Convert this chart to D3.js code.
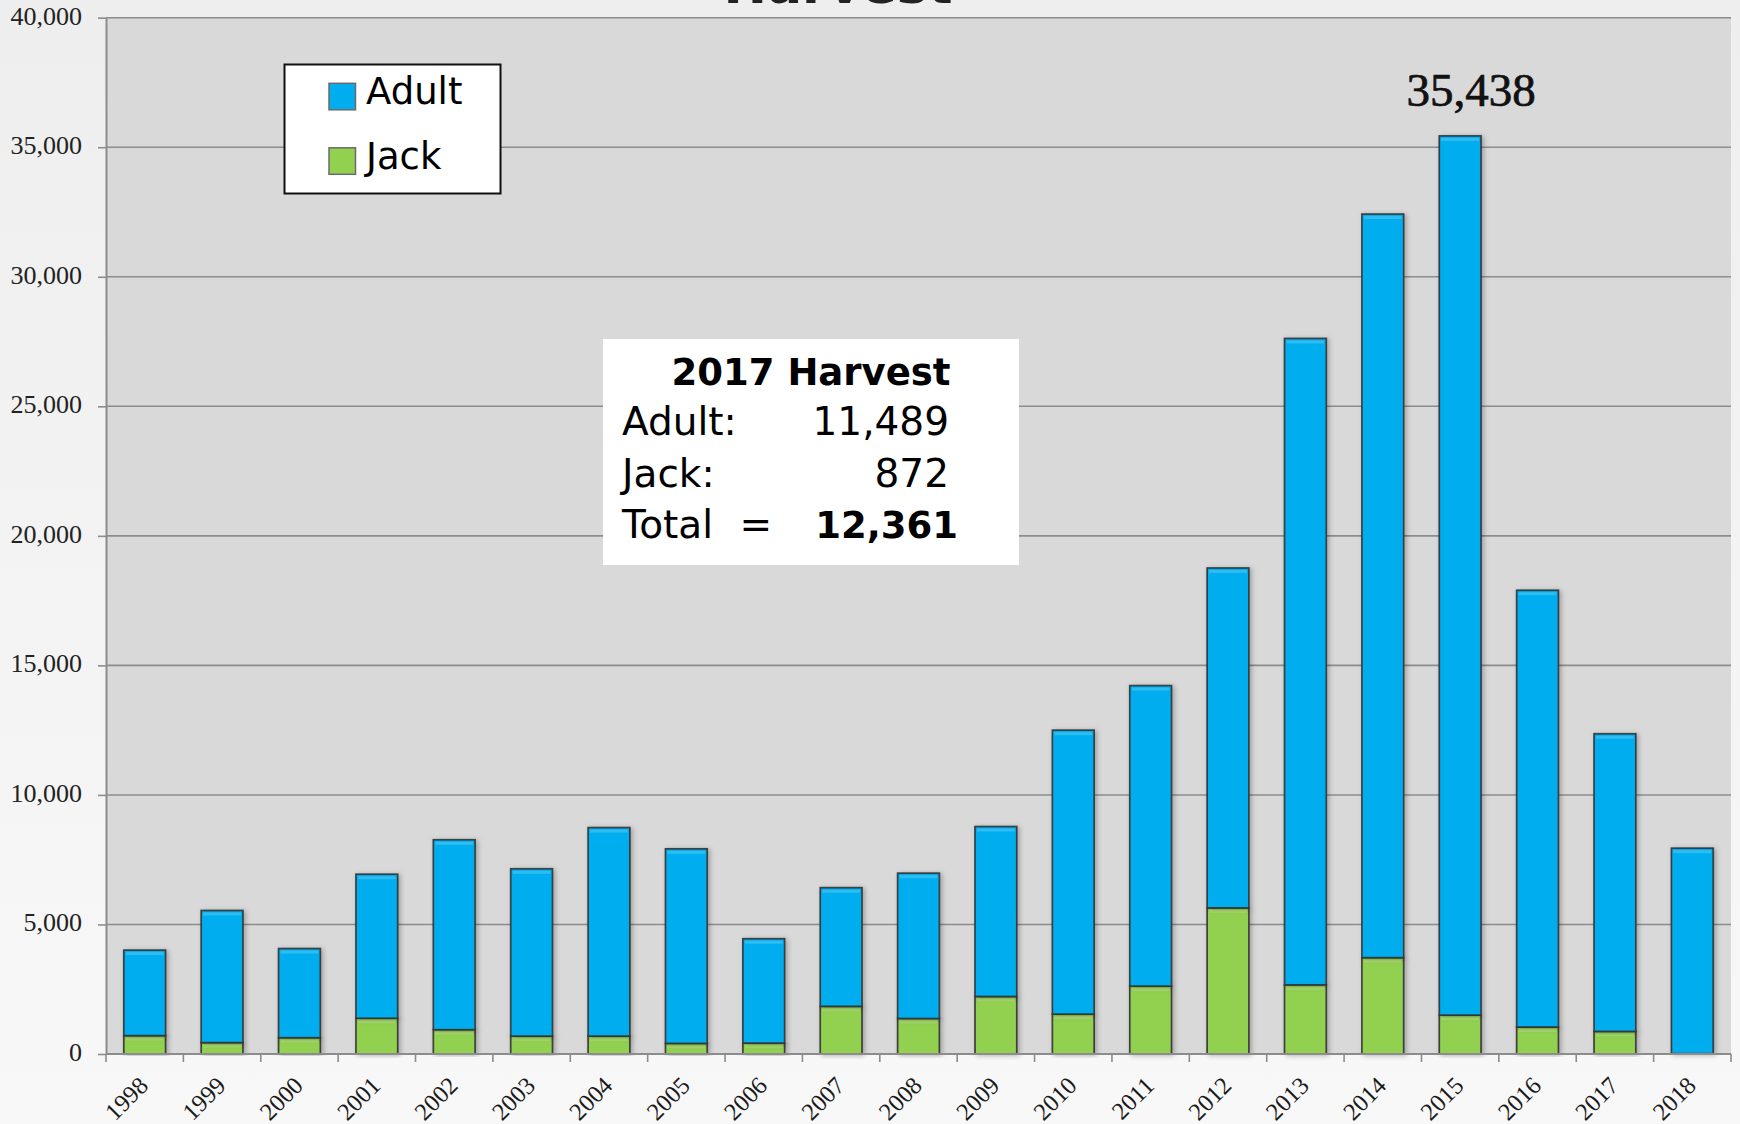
<!DOCTYPE html>
<html><head><meta charset="utf-8">
<script src="https://cdn.jsdelivr.net/npm/d3@7"></script>
<style>
html,body{margin:0;padding:0;background:#f3f3f3;}
body{width:1740px;height:1124px;overflow:hidden;}
</style></head><body>
<script>
// ---- data ----
const years = ["1998","1999","2000","2001","2002","2003","2004","2005","2006","2007","2008","2009","2010","2011","2012","2013","2014","2015","2016","2017","2018"];
const jack  = [710, 440, 630, 1380, 940, 690, 690, 410, 420, 1840, 1370, 2220, 1540, 2620, 5640, 2670, 3720, 1500, 1040, 872, 15];
const adult = [3300, 5100, 3440, 5560, 7330, 6460, 8050, 7510, 4030, 4580, 5610, 6560, 10960, 11600, 13120, 24950, 28700, 33938, 16860, 11489, 7930];
const yTicks = [0, 5000, 10000, 15000, 20000, 25000, 30000, 35000, 40000];
const seriesKeys = ["jack", "adult"];
const legendLabels = ["Adult", "Jack"];
const chartTitle = "Harvest";
const peakYear = "2015";
const peakLabel = "35,438";
const boxTitle = "2017 Harvest";
const boxLabels = ["Adult:", "Jack:", "Total ="];
const boxValues = ["11,489", "872", "12,361"];

// ---- layout ----
const W = 1740, H = 1124;
const L = 106, R = 1731, T = 17.7, B = 1054;
const colors = {adult: "#00aeef", jack: "#92d050"};

const svg = d3.select("body").append("svg").attr("width", W).attr("height", H);
const defs = svg.append("defs");
const bg = defs.append("linearGradient").attr("id", "bg").attr("x1", 0).attr("y1", 0).attr("x2", 0).attr("y2", 1);
bg.append("stop").attr("offset", "0%").attr("stop-color", "#eeeeee");
bg.append("stop").attr("offset", "100%").attr("stop-color", "#f8f8f8");
const f = defs.append("filter").attr("id", "sh").attr("x", "-30%").attr("y", "-10%").attr("width", "160%").attr("height", "120%");
f.append("feDropShadow").attr("dx", 2).attr("dy", 1).attr("stdDeviation", 2.5).attr("flood-color", "#000").attr("flood-opacity", 0.28);

svg.append("rect").attr("width", W).attr("height", H).attr("fill", "url(#bg)");
svg.append("rect").attr("x", L).attr("y", T).attr("width", R - L).attr("height", B - T).attr("fill", "#d9d9d9");

const x = d3.scaleBand().domain(years).range([L, R]).paddingInner(0.46).paddingOuter(0.23);
const y = d3.scaleLinear().domain([0, 40000]).range([B, T]);

// gridlines
svg.append("g").selectAll("line").data(yTicks.filter(v => v > 0)).join("line")
  .attr("x1", L).attr("x2", R).attr("y1", d => y(d)).attr("y2", d => y(d))
  .attr("stroke", "#8c8c8c").attr("stroke-width", 1.6);

// y axis
const yAxis = svg.append("g").attr("transform", `translate(${L},0)`)
  .call(d3.axisLeft(y).tickValues(yTicks).tickFormat(d3.format(",")).tickSize(8).tickSizeOuter(0).tickPadding(16));
yAxis.select(".domain").attr("stroke", "#8c8c8c").attr("stroke-width", 2);
yAxis.selectAll(".tick line").attr("stroke", "#8c8c8c").attr("stroke-width", 1.6);
yAxis.selectAll(".tick text").attr("font-family", "'Liberation Serif', serif").attr("font-size", 26)
  .attr("fill", "#222").attr("dy", "0.25em");

// bars
const table = years.map((yr, i) => ({year: yr, jack: jack[i], adult: adult[i]}));
const stacked = d3.stack().keys(seriesKeys)(table);
const bw = x.bandwidth();
svg.append("g").selectAll("g").data(stacked).join("g")
  .attr("fill", s => colors[s.key])
  .selectAll("rect").data(s => s).join("rect")
  .attr("x", d => x(d.data.year)).attr("width", bw)
  .attr("y", d => y(d[1])).attr("height", d => Math.max(0, y(d[0]) - y(d[1])))
  .attr("stroke", "#333").attr("stroke-opacity", 0.9).attr("stroke-width", 1.7)
  .attr("filter", "url(#sh)");
// subtle top highlight
svg.append("g").selectAll("g").data(stacked).join("g")
  .selectAll("rect").data(s => s.filter(d => y(d[0]) - y(d[1]) > 8)).join("rect")
  .attr("x", d => x(d.data.year) + 2).attr("width", bw - 4)
  .attr("y", d => y(d[1]) + 2).attr("height", 3)
  .attr("fill", "#fff").attr("opacity", 0.18);

// x axis
svg.append("line").attr("x1", L).attr("x2", R).attr("y1", B).attr("y2", B)
  .attr("stroke", "#8c8c8c").attr("stroke-width", 2);
const gap = x.step() - bw;
const bounds = years.map(d => x(d) - gap / 2).concat([x.range()[1]]);
svg.append("g").selectAll("line").data(bounds).join("line")
  .attr("x1", d => d).attr("x2", d => d).attr("y1", B).attr("y2", B + 8)
  .attr("stroke", "#8c8c8c").attr("stroke-width", 1.6);
svg.append("g").selectAll("text").data(years).join("text")
  .attr("transform", d => `translate(${x(d) + bw / 2 + 5},${B + 33}) rotate(-45)`)
  .attr("text-anchor", "end")
  .attr("font-family", "'Liberation Serif', serif").attr("font-size", 24.5).attr("fill", "#1a1a1a")
  .text(d => d);

// title (mostly cut off at top, as in the original)
svg.append("text").attr("x", 838).attr("y", 3).attr("text-anchor", "middle")
  .attr("font-family", "'DejaVu Sans', sans-serif").attr("font-weight", "bold").attr("font-size", 52)
  .attr("fill", "#222").text(chartTitle);

// peak label
svg.append("text").attr("x", x(peakYear) + bw / 2 + 11).attr("y", 106).attr("text-anchor", "middle")
  .attr("font-family", "'Liberation Serif', serif").attr("font-size", 47).attr("fill", "#111")
  .attr("stroke", "#111").attr("stroke-width", 0.7)
  .text(peakLabel);

// legend
const lg = svg.append("g");
lg.append("rect").attr("x", 284.5).attr("y", 64.5).attr("width", 216).attr("height", 129)
  .attr("fill", "#fff").attr("stroke", "#111").attr("stroke-width", 2);
const legendKeys = ["adult", "jack"];
legendKeys.forEach((k, i) => {
  const yy = 83.3 + i * 64.5;
  lg.append("rect").attr("x", 329).attr("y", yy).attr("width", 26.5).attr("height", 26.5)
    .attr("fill", colors[k]).attr("stroke", "#6a6a6a").attr("stroke-width", 1.5);
  lg.append("text").attr("x", 366).attr("y", yy + 21).attr("font-family", "'DejaVu Sans', sans-serif")
    .attr("font-size", 37).attr("fill", "#000").text(legendLabels[i]);
});

// 2017 harvest box
const bx = svg.append("g");
bx.append("rect").attr("x", 603).attr("y", 339).attr("width", 416).attr("height", 226).attr("fill", "#fff");
bx.append("text").attr("x", 811).attr("y", 385).attr("text-anchor", "middle")
  .attr("font-family", "'DejaVu Sans', sans-serif").attr("font-weight", "bold").attr("font-size", 37)
  .attr("fill", "#000").text(boxTitle);
boxLabels.forEach((lab, i) => {
  const by = 435 + i * 51.5;
  bx.append("text").attr("x", 622).attr("y", by)
    .attr("font-family", "'DejaVu Sans', sans-serif").attr("font-size", 39).attr("fill", "#000")
    .attr("word-spacing", i === 2 ? 14 : 0).text(lab);
  const bold = i === 2;
  bx.append("text").attr("x", bold ? 958 : 949).attr("y", by).attr("text-anchor", "end")
    .attr("font-family", "'DejaVu Sans', sans-serif").attr("font-size", bold ? 37 : 39)
    .attr("font-weight", bold ? "bold" : "normal").attr("fill", "#000").text(boxValues[i]);
});
</script>
</body></html>
